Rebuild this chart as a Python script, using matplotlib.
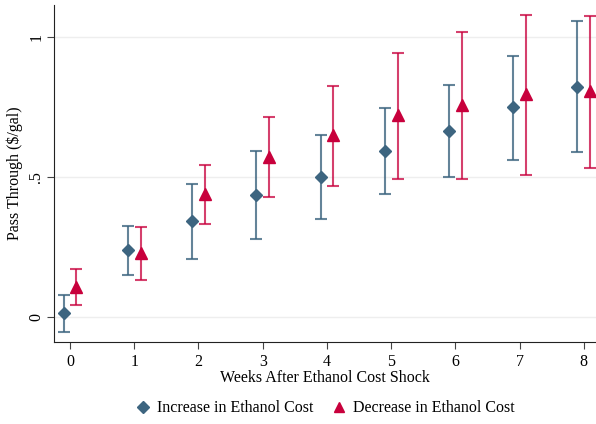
import numpy as np
import matplotlib.pyplot as plt

weeks = [0, 1, 2, 3, 4, 5, 6, 7, 8]

inc_est = [0.014, 0.240, 0.342, 0.436, 0.501, 0.593, 0.664, 0.749, 0.823]
inc_lo = [-0.051, 0.152, 0.207, 0.280, 0.350, 0.439, 0.499, 0.562, 0.588]
inc_hi = [0.081, 0.327, 0.475, 0.594, 0.650, 0.745, 0.829, 0.933, 1.058]

dec_est = [0.108, 0.229, 0.439, 0.573, 0.650, 0.721, 0.757, 0.795, 0.807]
dec_lo = [0.042, 0.132, 0.333, 0.428, 0.470, 0.493, 0.493, 0.507, 0.533]
dec_hi = [0.173, 0.323, 0.543, 0.714, 0.826, 0.944, 1.019, 1.079, 1.076]

blue = "#3d6580"
red = "#c8003c"

plt.rcParams["font.family"] = ["Liberation Serif", "DejaVu Serif"]

fig = plt.figure(figsize=(5.96, 4.24), dpi=100)
ax = fig.add_axes([0.0906, 0.193, 0.9094, 0.795])

x = np.array(weeks)
inc_est = np.array(inc_est)
dec_est = np.array(dec_est)

ax.errorbar(x - 0.1, inc_est,
            yerr=[inc_est - np.array(inc_lo), np.array(inc_hi) - inc_est],
            fmt="none", ecolor=blue, alpha=0.8, elinewidth=1.5, capsize=4, capthick=1.5)
ax.errorbar(x + 0.1, dec_est,
            yerr=[dec_est - np.array(dec_lo), np.array(dec_hi) - dec_est],
            fmt="none", ecolor=red, alpha=0.75, elinewidth=1.5, capsize=4, capthick=1.5)
ax.plot(x - 0.1, inc_est, "D", color=blue, markersize=6.5, linestyle="none",
        label="Increase in Ethanol Cost", zorder=3)
ax.plot(x + 0.1, dec_est, "^", color=red, markersize=8, linestyle="none",
        label="Decrease in Ethanol Cost", zorder=3)

ax.set_xlim(-0.25, 8.19)
ax.set_ylim(-0.089, 1.114)
ax.set_xticks(weeks)
ax.set_yticks([0, 0.5, 1])
ax.set_yticklabels(["0", ".5", "1"], rotation=90, va="center")
ax.grid(axis="y", color="#eeeeee", linewidth=1)
ax.set_axisbelow(True)
for s in ["top", "right"]:
    ax.spines[s].set_visible(False)
for s in ["left", "bottom"]:
    ax.spines[s].set_color("#222222")
ax.tick_params(axis="both", labelsize=11.5, length=5, color="#444444")
ax.tick_params(axis="y", pad=2)
ax.set_xlabel("Weeks After Ethanol Cost Shock", fontsize=11.5, labelpad=0)
ax.set_ylabel("Pass Through ($/gal)", fontsize=11.5, labelpad=4)

fig.legend(loc="center", bbox_to_anchor=(0.545, 0.037), ncol=2, frameon=False,
           fontsize=11.5, handlelength=1.0, handletextpad=0.4, columnspacing=1.1,
           markerscale=0.9)

fig.savefig("out.png", dpi=100)
